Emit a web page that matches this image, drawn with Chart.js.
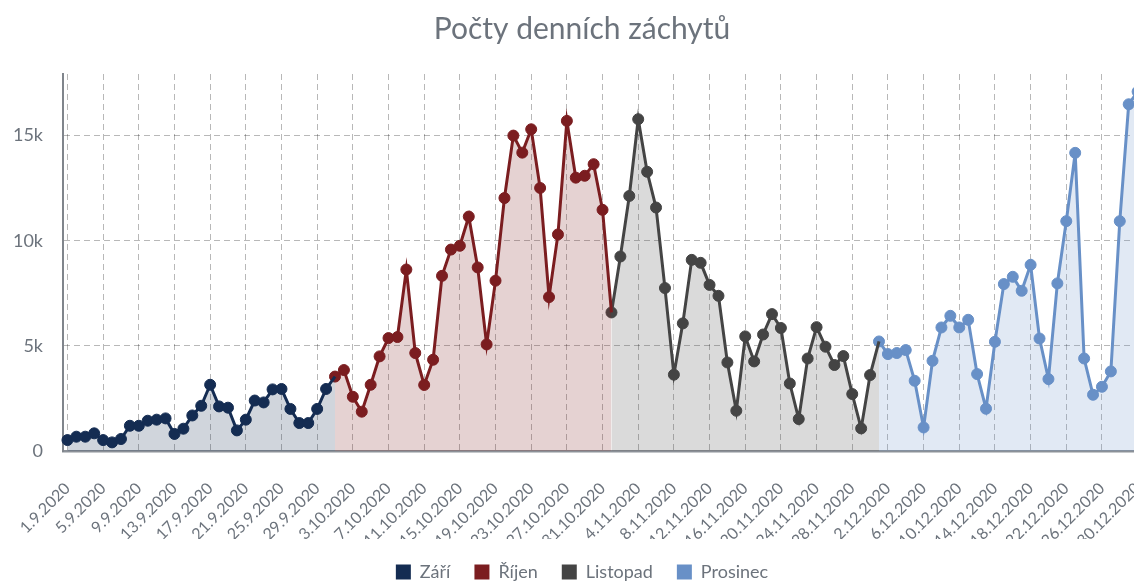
<!DOCTYPE html>
<html><head><meta charset="utf-8">
<script src="https://cdn.jsdelivr.net/npm/chart.js@4/dist/chart.umd.min.js"></script>
<style>
html,body{margin:0;padding:0;background:#fff;}
#clip{width:1134px;height:587px;overflow:hidden;position:relative;}
#wrap{width:1170px;height:591px;position:absolute;left:0;top:0;}
</style></head><body>
<div id="clip"><div id="wrap"><canvas id="c"></canvas></div></div>
<script>
// Category: days 1.9.2020 – 31.12.2020
const months = [9, 10, 11, 12];
const monthDays = [30, 31, 30, 31];
const seriesNames = ['Září', 'Říjen', 'Listopad', 'Prosinec'];
const seriesColors = ['#142c52', '#7b1d20', '#444444', '#6890c7'];
const seriesFills = ['rgba(20,44,82,0.2)', 'rgba(123,29,32,0.2)', 'rgba(68,68,68,0.2)', 'rgba(104,144,199,0.2)'];

const zari = [520,680,680,840,520,410,570,1200,1200,1440,1490,1550,810,1060,1690,2150,3150,2120,2060,980,1490,2400,2310,2930,2950,2000,1330,1330,2000,2950];
const rijen = [3540,3850,2580,1870,3150,4500,5370,5420,8630,4660,3140,4340,8330,9580,9760,11150,8730,5070,8100,12030,15000,14190,15300,12510,7320,10300,15700,13000,13090,13640,11470];
const listopad = [6590,9250,12130,15780,13280,11580,7750,3630,6070,9090,8950,7900,7380,4210,1915,5450,4260,5540,6510,5850,3210,1520,4400,5890,4960,4090,4515,2710,1075,3610];
const prosinec = [5210,4610,4660,4800,3340,1120,4290,5875,6430,5875,6240,3660,2010,5195,7940,8285,7620,8855,5350,3420,7970,10930,14180,4400,2675,3055,3785,10930,16490,17090,17930];

const yTicks = [0, 5000, 10000, 15000];
const yTickLabels = ['0', '5k', '10k', '15k'];

const labels = [];
months.forEach((m, i) => { for (let d = 1; d <= monthDays[i]; d++) labels.push(d + '.' + m + '.2020'); });

const monthValues = [zari, rijen, listopad, prosinec];
const total = labels.length;
const datasets = monthValues.map((vals, i) => {
  const start = monthValues.slice(0, i).reduce((s, a) => s + a.length, 0);
  const data = new Array(total).fill(null);
  vals.forEach((v, j) => { data[start + j] = v; });
  let last = start + vals.length - 1;
  if (i < monthValues.length - 1) { data[start + vals.length] = monthValues[i + 1][0]; last = start + vals.length; }
  const isFinal = i === monthValues.length - 1;
  return {
    label: seriesNames[i],
    data,
    borderColor: seriesColors[i],
    backgroundColor: seriesFills[i],
    pointBackgroundColor: seriesColors[i],
    pointBorderColor: seriesColors[i],
    pointBorderWidth: 1,
    pointRadius: ctx => (!isFinal && ctx.dataIndex === last) ? 0 : 5.5,
    borderWidth: 3,
    fill: 'origin',
    tension: 0
  };
});
const yMax = Math.max(...prosinec, ...rijen, ...listopad, ...zari);

const grey = '#6c737c';
new Chart(document.getElementById('c'), {
  type: 'line',
  data: { labels, datasets },
  options: {
    responsive: true,
    maintainAspectRatio: false,
    animation: false,
    layout: { padding: { left: 13, right: 19, top: 0, bottom: 0 } },
    plugins: {
      title: { display: true, text: 'Počty denních záchytů', color: grey,
        font: { family: 'Lato', size: 30, weight: 'normal' }, padding: { top: 11, bottom: 27 } },
      legend: { position: 'bottom',
        labels: { color: grey, font: { family: 'Lato', size: 18 }, boxWidth: 15, boxHeight: 15, padding: 24,
          generateLabels: chart => chart.data.datasets.map((ds, i) => ({
            text: ds.label, fillStyle: ds.borderColor, strokeStyle: ds.borderColor, lineWidth: 0,
            fontColor: grey, hidden: false, datasetIndex: i })) } },
      tooltip: { enabled: false }
    },
    scales: {
      x: {
        offset: true,
        afterFit: axis => { axis.paddingLeft = 0; axis.paddingRight = 0; axis.height = 88; },
        grid: { color: 'rgba(0,0,0,0.28)', drawTicks: true, tickLength: 20, tickColor: 'rgba(0,0,0,0)', lineWidth: 1 },
        border: { display: true, color: '#8c9198', width: 2.5, dash: [6, 4] },
        ticks: { color: grey, font: { family: 'Lato', size: 16 }, autoSkip: false, maxRotation: 45, minRotation: 45, padding: 8,
          callback: function(v, i) { return i % 4 === 0 ? this.getLabelForValue(v) : null; } }
      },
      y: {
        min: 0, max: yMax,
        afterBuildTicks: axis => { axis.ticks = yTicks.map(v => ({ value: v })); },
        afterFit: axis => { axis.width = 50; },
        grid: { color: 'rgba(0,0,0,0.28)', drawTicks: false },
        border: { display: true, color: '#80858c', width: 2, dash: [6, 4] },
        ticks: { color: grey, font: { family: 'Lato', size: 18 }, padding: 20,
          callback: v => { const k = yTicks.indexOf(v); return k >= 0 ? yTickLabels[k] : ''; } }
      }
    }
  }
});
</script>
</body></html>
